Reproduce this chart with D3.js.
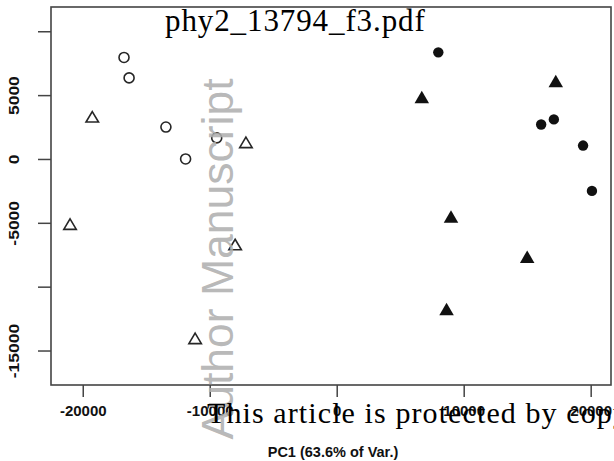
<!DOCTYPE html>
<html>
<head>
<meta charset="utf-8">
<script src="https://cdn.jsdelivr.net/npm/d3@7"></script>
<style>
  html, body { margin: 0; padding: 0; background: #fff; overflow: hidden; }
  svg { display: block; }
</style>
</head>
<body>
<svg id="chart" width="614" height="461"></svg>
<script>
// ---- data ----
const openCirclePC1 = [-16750, -16350, -13450, -9450, -11900];
const openCirclePC2 = [7950, 6350, 2500, 1650, 0];
const openTrianglePC1 = [-19250, -7150, -21000, -8000, -11150];
const openTrianglePC2 = [3300, 1300, -5100, -6700, -14050];
const filledCirclePC1 = [8000, 16100, 17100, 19400, 20100];
const filledCirclePC2 = [8350, 2700, 3100, 1050, -2500];
const filledTrianglePC1 = [17250, 6700, 9000, 15000, 8650];
const filledTrianglePC2 = [6100, 4850, -4500, -7650, -11750];
const xTicks = [-20000, -10000, 0, 10000, 20000];
const yTicks = [-15000, -10000, -5000, 0, 5000, 10000];
const yTickLabels = {"-15000": "-15000", "-5000": "-5000", "0": "0", "5000": "5000"};
const xTitle = "PC1 (63.6% of Var.)";
const overlayTop = "phy2_13794_f3.pdf";
const overlayBottom = "This article is protected by copyright. All rights reserved";
const watermark = "Author Manuscript";

// ---- layout ----
const L = 51, R = 611, T = 7, B = 385;
const svg = d3.select("#chart");
const x = d3.scaleLinear().domain([-22500, 21600]).range([L, R]);
const y = d3.scaleLinear().domain([-17700, 11900]).range([B, T]);
const ink = "#262626";
const axisCol = "#444";
const sans = "'Liberation Sans', Arial, sans-serif";
const serif = "'Liberation Serif', 'Times New Roman', serif";

// axes
const xAxis = d3.axisBottom(x).tickValues(xTicks).tickSize(12).tickPadding(8)
  .tickFormat(d => String(d));
const gx = svg.append("g").attr("transform", `translate(0,${B})`).call(xAxis);
gx.select(".domain").remove();
gx.selectAll("line").attr("stroke", axisCol).attr("stroke-width", 1.5);
gx.selectAll("text").attr("fill", "#111").attr("font-family", sans)
  .attr("font-weight", "bold").attr("font-size", 15);

const yAxis = d3.axisLeft(y).tickValues(yTicks).tickSize(13).tickFormat(() => "");
const gy = svg.append("g").attr("transform", `translate(${L},0)`).call(yAxis);
gy.select(".domain").remove();
gy.selectAll("line").attr("stroke", axisCol).attr("stroke-width", 1.5);
gy.selectAll(".tick").each(function(d) {
  const lab = yTickLabels[String(d)];
  if (!lab) return;
  d3.select(this).append("text")
    .attr("transform", `translate(${14 - L},0) rotate(-90) scale(1.25,1)`)
    .attr("text-anchor", "middle").attr("dy", "0.35em")
    .attr("fill", "#111").attr("font-family", sans)
    .attr("font-weight", "bold").attr("font-size", 14)
    .text(lab);
});

// frame
svg.append("rect").attr("x", L).attr("y", T).attr("width", R - L).attr("height", B - T)
  .attr("fill", "none").attr("stroke", axisCol).attr("stroke-width", 1.6);

// axis title
svg.append("text").attr("x", 333).attr("y", 452).attr("dy", "0.35em")
  .attr("text-anchor", "middle").attr("font-family", sans)
  .attr("font-weight", "bold").attr("font-size", 14.5).attr("fill", "#111")
  .text(xTitle);

// points
const pts = (xs, ys) => xs.map((v, i) => ({x: v, y: ys[i]}));
const tri = (w, h) => `M0,${-h/2}L${w/2},${h/2}L${-w/2},${h/2}Z`;
const g = svg.append("g");
g.selectAll(".oc").data(pts(openCirclePC1, openCirclePC2)).join("circle")
  .attr("cx", d => x(d.x)).attr("cy", d => y(d.y)).attr("r", 5)
  .attr("fill", "none").attr("stroke", ink).attr("stroke-width", 1.6);
g.selectAll(".ot").data(pts(openTrianglePC1, openTrianglePC2)).join("path")
  .attr("transform", d => `translate(${x(d.x)},${y(d.y)})`)
  .attr("d", tri(12.5, 10.5))
  .attr("fill", "none").attr("stroke", ink).attr("stroke-width", 1.6)
  .attr("stroke-linejoin", "miter");
g.selectAll(".fc").data(pts(filledCirclePC1, filledCirclePC2)).join("circle")
  .attr("cx", d => x(d.x)).attr("cy", d => y(d.y)).attr("r", 5.2)
  .attr("fill", "#111");
g.selectAll(".ft").data(pts(filledTrianglePC1, filledTrianglePC2)).join("path")
  .attr("transform", d => `translate(${x(d.x)},${y(d.y)})`)
  .attr("d", tri(14.5, 12.5))
  .attr("fill", "#111");

// watermark
svg.append("text")
  .attr("transform", "translate(233,259) rotate(-90)")
  .attr("text-anchor", "middle")
  .attr("font-family", sans).attr("font-size", 44.5)
  .attr("fill", "#b0b0b0").attr("fill-opacity", 0.9)
  .text(watermark);

// serif overlays
svg.append("text").attr("x", 165).attr("y", 31)
  .attr("font-family", serif).attr("font-size", 31)
  .attr("letter-spacing", 0.9).attr("fill", "#000")
  .text(overlayTop);
svg.append("text").attr("x", 207).attr("y", 423)
  .attr("font-family", serif).attr("font-size", 30)
  .attr("letter-spacing", 1.1).attr("fill", "#000")
  .text(overlayBottom);
</script>
</body>
</html>
